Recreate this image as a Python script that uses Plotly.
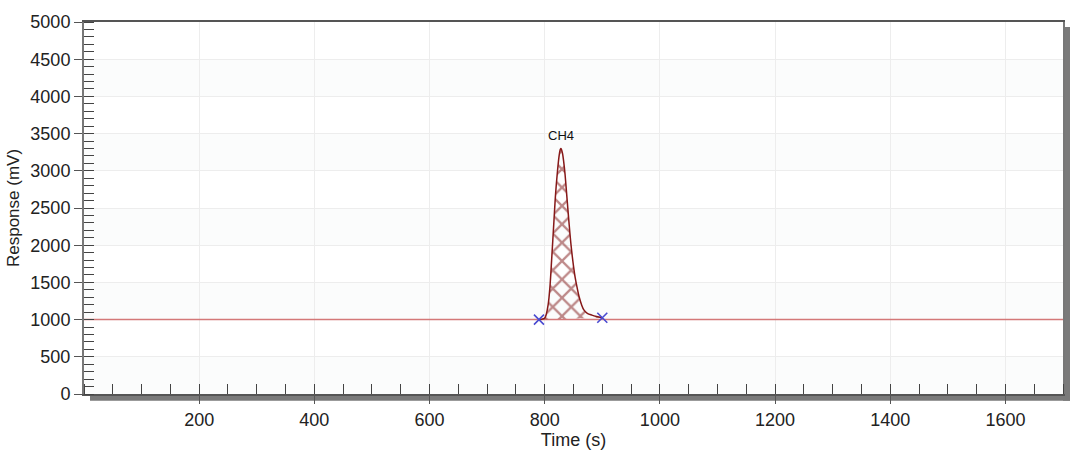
import plotly.graph_objects as go

# ---- data ----
peak_time = [790, 795, 800, 803, 806, 809, 812, 816, 819, 822, 825, 827, 828,
             829, 831, 833, 835, 838, 842, 846, 850, 853, 856, 860, 864, 868,
             874, 882, 890, 900]
peak_resp = [1000, 1005, 1020, 1080, 1200, 1430, 1800, 2320, 2700, 2980, 3200, 3285, 3300,
             3290, 3230, 3120, 2980, 2700, 2320, 1980, 1720, 1560, 1440, 1300, 1200, 1130,
             1085, 1060, 1042, 1025]
baseline_time = [0, 1700]
baseline_resp = [1000, 1000]
marker_time = [790, 900]
marker_resp = [1000, 1025]
peak_label = "CH4"
peak_label_time = 828
peak_label_resp = 3480
x_ticks = [200, 400, 600, 800, 1000, 1200, 1400, 1600]
y_ticks = [0, 500, 1000, 1500, 2000, 2500, 3000, 3500, 4000, 4500, 5000]
band_starts = [0, 1000, 2000, 3000, 4000]

W, H = 1080, 454
ml, mr, mt, mb = 84, 17, 17, 58
pw, ph = W - ml - mr, H - mt - mb

fig = go.Figure()

fig.add_trace(go.Scatter(
    x=baseline_time, y=baseline_resp, mode="lines",
    line=dict(color="#d47878", width=1.5), hoverinfo="skip", showlegend=False))

fig.add_trace(go.Scatter(
    x=peak_time, y=peak_resp, mode="lines", fill="toself",
    fillcolor="rgba(255,255,255,0)", line_shape="spline",
    fillpattern=dict(shape="x", fgcolor="#7e1414", bgcolor="rgba(255,255,255,0)",
                     size=13, solidity=0.32),
    line=dict(color="#861818", width=1.5), showlegend=False))

fig.add_trace(go.Scatter(
    x=marker_time, y=marker_resp, mode="markers",
    marker=dict(symbol="x-thin", size=10, line=dict(color="#4a4ad0", width=1.6)),
    showlegend=False))

fig.add_annotation(x=peak_label_time, y=peak_label_resp, text=peak_label,
                   showarrow=False, font=dict(size=13, color="#111"))

shapes = []
for b in band_starts:
    shapes.append(dict(type="rect", xref="x", yref="y", x0=0, x1=1700, y0=b, y1=b + 500,
                       fillcolor="#fbfcfc", line_width=0, layer="below"))
# drop shadow (outside plot area)
sx, sy = 7 / pw, 7 / ph
shapes.append(dict(type="rect", xref="paper", yref="paper", x0=6 / pw, x1=1 + sx,
                   y0=-sy, y1=0, fillcolor="#7a7a7a", line_width=0, layer="below"))
shapes.append(dict(type="rect", xref="paper", yref="paper", x0=1, x1=1 + sx,
                   y0=-sy, y1=1 - 5 / ph, fillcolor="#7a7a7a", line_width=0, layer="below"))

fig.update_layout(
    width=W, height=H, margin=dict(l=ml, r=mr, t=mt, b=mb),
    paper_bgcolor="white", plot_bgcolor="white",
    font=dict(family="Liberation Sans, Arial, sans-serif", color="#222"),
    shapes=shapes, showlegend=False,
)

fig.update_xaxes(
    range=[0, 1700], tickvals=x_ticks, ticks="outside", ticklen=8, tickcolor="#555",
    tickfont=dict(size=18), showgrid=True, gridcolor="#ededed", gridwidth=1,
    showline=True, linecolor="#555", linewidth=2, mirror=True, zeroline=False,
    minor=dict(dtick=50, tick0=0, ticks="inside", ticklen=10, tickcolor="#444", showgrid=False),
    title=dict(text="Time (s)", font=dict(size=18), standoff=0),
)
fig.update_yaxes(
    range=[0, 5000], tickvals=y_ticks, ticks="outside", ticklen=8, tickcolor="#555",
    tickfont=dict(size=18), showgrid=True, gridcolor="#ededed", gridwidth=1,
    showline=True, linecolor="#777", linewidth=2, mirror=True, zeroline=False,
    minor=dict(dtick=100, tick0=0, ticks="inside", ticklen=10, tickcolor="#444", showgrid=False),
    title=dict(text="Response (mV)", font=dict(size=17), standoff=6),
)

fig.write_html("out.html")
